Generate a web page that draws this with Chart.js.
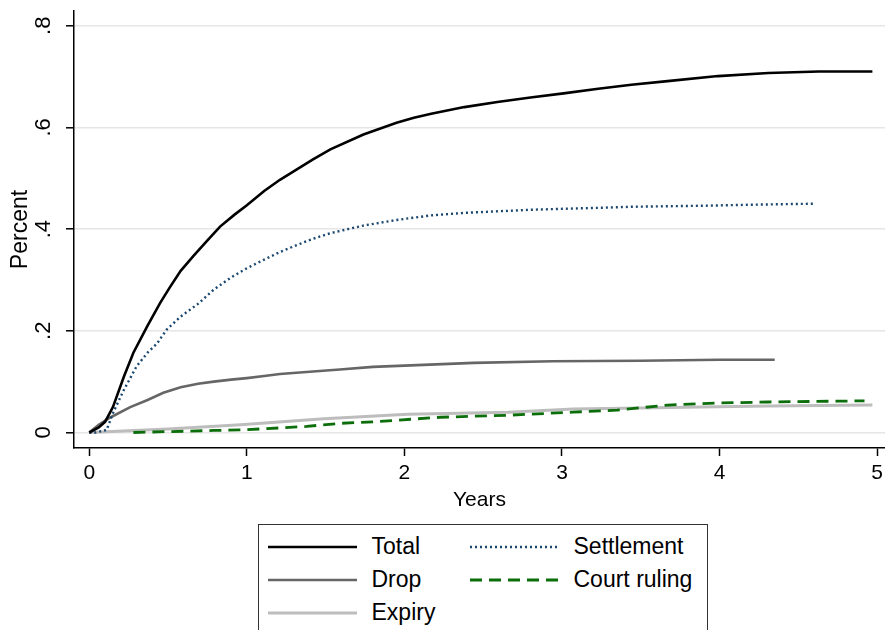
<!DOCTYPE html>
<html>
<head>
<meta charset="utf-8">
<script src="https://cdn.jsdelivr.net/npm/chart.js@4.4.1/dist/chart.umd.min.js"></script>
<style>
  body { margin: 0; background: #fff; }
  #wrap { position: relative; width: 885px; height: 630px; overflow: hidden; font-family: "Liberation Sans", Arial, sans-serif; }
  #plot { position: absolute; left: 0; top: 0; width: 885px; height: 515px; }
  #legend { position: absolute; left: 258px; top: 524px; width: 450px; height: 120px; border: 1.5px solid #333; box-sizing: border-box; }
  .item { position: absolute; height: 30px; display: flex; align-items: center; font-size: 23px; color: #000; white-space: nowrap; }
  .item svg { margin-right: 15px; }
</style>
</head>
<body>
<div id="wrap">
  <div id="plot"><canvas id="km-chart"></canvas></div>
  <div id="legend"></div>
</div>
<script>
// cumulative incidence by outcome (years since filing)
var totalX = [0, 0.06, 0.10, 0.15, 0.22, 0.28, 0.37, 0.45, 0.51, 0.58, 0.66, 0.75, 0.83, 0.92, 1.00, 1.11, 1.21, 1.32, 1.42, 1.53, 1.74, 1.95, 2.06, 2.17, 2.38, 2.59, 2.80, 3.01, 3.23, 3.44, 3.67, 3.99, 4.31, 4.63, 4.97];
var totalY = [0, 0.010, 0.021, 0.050, 0.110, 0.157, 0.210, 0.255, 0.285, 0.318, 0.347, 0.378, 0.405, 0.428, 0.447, 0.475, 0.497, 0.518, 0.537, 0.557, 0.586, 0.609, 0.619, 0.627, 0.640, 0.650, 0.659, 0.667, 0.676, 0.684, 0.691, 0.701, 0.707, 0.710, 0.710];

var settleX = [0, 0.04, 0.11, 0.15, 0.22, 0.30, 0.37, 0.43, 0.49, 0.58, 0.69, 0.79, 0.90, 1.00, 1.11, 1.21, 1.32, 1.42, 1.53, 1.74, 1.95, 2.17, 2.38, 2.59, 2.80, 3.01, 3.25, 3.44, 3.90, 4.20, 4.60];
var settleY = [0, 0, 0.005, 0.038, 0.084, 0.130, 0.157, 0.175, 0.202, 0.228, 0.253, 0.281, 0.305, 0.323, 0.340, 0.355, 0.369, 0.381, 0.392, 0.407, 0.418, 0.427, 0.432, 0.435, 0.438, 0.440, 0.442, 0.444, 0.446, 0.448, 0.450];

var dropX = [0, 0.06, 0.13, 0.26, 0.37, 0.47, 0.58, 0.69, 0.79, 0.90, 1.00, 1.11, 1.21, 1.42, 1.59, 1.80, 2.44, 2.94, 3.50, 4.00, 4.35];
var dropY = [0, 0.015, 0.029, 0.050, 0.064, 0.078, 0.089, 0.096, 0.100, 0.104, 0.107, 0.111, 0.115, 0.120, 0.124, 0.129, 0.137, 0.140, 0.141, 0.143, 0.143];

var courtX = [0.28, 0.79, 0.96, 1.21, 1.38, 1.59, 1.80, 2.23, 2.66, 3.07, 3.35, 3.67, 3.99, 4.31, 4.85, 4.92];
var courtY = [0, 0.004, 0.005, 0.009, 0.012, 0.018, 0.021, 0.030, 0.034, 0.040, 0.044, 0.054, 0.058, 0.060, 0.062, 0.062];

var expiryX = [0, 0.50, 0.96, 1.49, 2.02, 2.66, 3.07, 3.50, 3.88, 4.31, 4.97];
var expiryY = [0, 0.007, 0.015, 0.027, 0.036, 0.040, 0.046, 0.048, 0.050, 0.052, 0.054];

var seriesNames = ['Total', 'Settlement', 'Drop', 'Court ruling', 'Expiry'];
var xTicks = [0, 1, 2, 3, 4, 5];
var yTicks = [0, 0.2, 0.4, 0.6, 0.8];
var yTickLabels = ['0', '.2', '.4', '.6', '.8'];

function pts(xs, ys) {
    return xs.map(function (x, i) { return { x: x, y: ys[i] }; });
}

var styles = [
    { color: '#000000', width: 2.6, dash: [] },
    { color: '#1a476f', width: 2.4, dash: [2, 3] },
    { color: '#666666', width: 2.6, dash: [] },
    { color: '#0b6e0b', width: 2.8, dash: [12, 7] },
    { color: '#bdbdbd', width: 3, dash: [] }
];
var seriesData = [
    pts(totalX, totalY),
    pts(settleX, settleY),
    pts(dropX, dropY),
    pts(courtX, courtY),
    pts(expiryX, expiryY)
];

var font = '"Liberation Sans", Arial, sans-serif';

var handleChart = function () {
    var ctx = document.getElementById('km-chart').getContext('2d');
    window.kmChart = new Chart(ctx, {
        type: 'line',
        data: {
            datasets: seriesNames.map(function (name, i) {
                return {
                    label: name,
                    data: seriesData[i],
                    borderColor: styles[i].color,
                    borderWidth: styles[i].width,
                    borderDash: styles[i].dash,
                    pointRadius: 0,
                    fill: false,
                    tension: 0
                };
            })
        },
        options: {
            responsive: true,
            maintainAspectRatio: false,
            animation: false,
            layout: { padding: { top: 11, right: 0, left: 0, bottom: 0 } },
            plugins: { legend: { display: false }, tooltip: { enabled: false } },
            scales: {
                x: {
                    type: 'linear',
                    min: -0.097,
                    max: 5.05,
                    afterBuildTicks: function (s) { s.ticks = xTicks.map(function (v) { return { value: v }; }); },
                    afterFit: function (s) { s.height = 67; s.paddingLeft = 0; s.paddingRight = 0; },
                    grid: { drawOnChartArea: false, drawTicks: true, tickLength: 8, tickColor: '#000', tickWidth: 1.5 },
                    border: { display: true, color: '#000', width: 1.5 },
                    ticks: { color: '#000', padding: 5, font: { family: font, size: 21 }, maxRotation: 0 },
                    title: { display: true, text: 'Years', color: '#000', font: { family: font, size: 21 }, padding: { top: 0, bottom: 2 } }
                },
                y: {
                    type: 'linear',
                    min: -0.0305,
                    max: 0.829,
                    afterBuildTicks: function (s) { s.ticks = yTicks.map(function (v) { return { value: v }; }); },
                    afterFit: function (s) { s.width = 74; s.paddingTop = 0; s.paddingBottom = 0; },
                    grid: { color: '#e6e6e6', lineWidth: 1.6, tickLength: 8, tickColor: '#000', tickWidth: 1.5 },
                    border: { display: true, color: '#000', width: 1.5 },
                    ticks: {
                        color: '#000', padding: 13, minRotation: 90, maxRotation: 90, crossAlign: 'center',
                        font: { family: font, size: 22 },
                        callback: function (v) { var k = yTicks.indexOf(v); return k >= 0 ? yTickLabels[k] : ''; }
                    },
                    title: { display: true, text: 'Percent', color: '#000', font: { family: font, size: 23 }, padding: { top: 7, bottom: 0 } }
                }
            }
        }
    });
};

// legend laid out in two columns like the original
function buildLegend() {
    var box = document.getElementById('legend');
    var cols = [268, 470];
    var rows = [547, 580, 613];
    seriesNames.forEach(function (name, i) {
        var st = styles[i];
        var div = document.createElement('div');
        div.className = 'item';
        div.style.left = (cols[i % 2] - 259.5) + 'px';
        div.style.top = (rows[Math.floor(i / 2)] - 15 - 525.5) + 'px';
        div.innerHTML = '<svg width="89" height="8"><line x1="0" y1="4" x2="89" y2="4" stroke="' + st.color +
            '" stroke-width="' + st.width + '" stroke-dasharray="' + st.dash.join(',') + '"/></svg><span>' + name + '</span>';
        box.appendChild(div);
    });
}

handleChart();
buildLegend();
</script>
</body>
</html>
